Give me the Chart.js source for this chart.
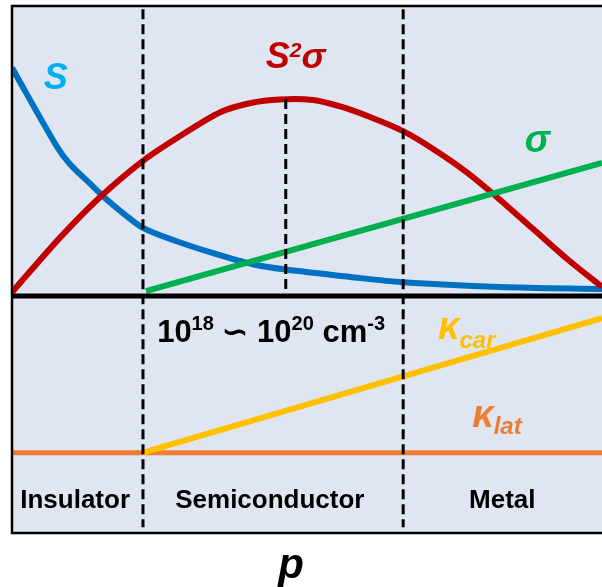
<!DOCTYPE html>
<html lang="en">
<head>
<meta charset="UTF-8">
<title>Thermoelectric vs carrier concentration</title>
<style>
  body { margin: 0; padding: 0; background: #fff; }
  #wrap { width: 602px; height: 587px; }
</style>
</head>
<body>
<div id="wrap"><canvas id="chart" width="602" height="587"></canvas></div>
<script src="https://cdn.jsdelivr.net/npm/chart.js"></script>
<script>
  // x: carrier concentration p (0..100, arbitrary), y: property (schematic units)
  // top panel y > 0, bottom panel y < 0
  const sX = [0, 7.6, 9.8, 13.2, 16.1, 18.8, 22.2, 27.3, 34.1, 40.8, 46.4, 57.3, 66.1, 82.7, 100];
  const sY = [43.1, 28.2, 24.9, 21.2, 18.1, 15.6, 12.8, 10.5, 8.0, 5.9, 4.9, 3.5, 2.5, 1.6, 1.2];

  const pfX = [0, 8.1, 14.9, 22.2, 28.5, 35.3, 40.3, 45.4, 51.0, 55.6, 60.2, 66.3, 71.7, 77.1, 82.2, 88.3, 94.1, 100];
  const pfY = [0.6, 10.9, 18.6, 25.5, 30.2, 34.7, 36.4, 37.1, 37.0, 35.8, 34.0, 31.1, 27.5, 23.3, 18.6, 12.6, 6.9, 1.6];

  const sigmaX = [22.7, 100];
  const sigmaY = [0.8, 25.1];

  const kcarX = [22.2, 100];
  const kcarY = [-29.8, -4.3];

  const klatX = [-0.4, 100];
  const klatY = [-29.8, -29.8];

  // region boundaries and optimum
  const boundaryX = [22.2, 66.3];
  const optimumX = 46.4;
  const regions = ['Insulator', 'Semiconductor', 'Metal'];

  const pts = (xs, ys) => xs.map((x, i) => ({ x: x, y: ys[i] }));

  const datasets = [];
  boundaryX.forEach(bx => {
    datasets.push({
      data: [{ x: bx, y: 54.2 }, { x: bx, y: -43.9 }],
      borderColor: '#000', borderWidth: 3, borderDash: [10, 5]
    });
  });
  datasets.push({
    data: [{ x: optimumX, y: 37.2 }, { x: optimumX, y: 0 }],
    borderColor: '#000', borderWidth: 3, borderDash: [10, 5]
  });
  datasets.push({
    data: [{ x: -0.5, y: -0.1 }, { x: 100, y: -0.1 }],
    borderColor: '#000', borderWidth: 5
  });
  datasets.push({ label: 'sigma', data: pts(sigmaX, sigmaY), borderColor: '#00b050', borderWidth: 6 });
  datasets.push({ label: 'S2sigma', data: pts(pfX, pfY), borderColor: '#c00000', borderWidth: 6, tension: 0.3 });
  datasets.push({ label: 'S', data: pts(sX, sY), borderColor: '#0070c0', borderWidth: 6, tension: 0.3 });
  datasets.push({ label: 'kcar', data: pts(kcarX, kcarY), borderColor: '#ffc000', borderWidth: 6 });
  datasets.push({ label: 'klat', data: pts(klatX, klatY), borderColor: '#ed7d31', borderWidth: 5 });

  const FONT = '"Liberation Sans", Arial, sans-serif';

  function richText(ctx, parts, x, y, align) {
    ctx.save();
    ctx.textBaseline = 'alphabetic';
    ctx.textAlign = 'left';
    let w = 0;
    parts.forEach(p => {
      ctx.font = p.f;
      w += ctx.measureText(p.t).width;
    });
    let cx = align === 'center' ? x - w / 2 : x;
    parts.forEach(p => {
      ctx.font = p.f;
      ctx.fillStyle = p.c;
      ctx.fillText(p.t, cx, y + (p.dy || 0));
      cx += ctx.measureText(p.t).width;
    });
    ctx.restore();
  }

  const framePlugin = {
    id: 'frame',
    beforeDatasetsDraw(chart) {
      const a = chart.chartArea, ctx = chart.ctx;
      ctx.save();
      ctx.fillStyle = '#dfe6f2';
      ctx.fillRect(a.left, a.top, a.right - a.left + 2, a.bottom - a.top);
      ctx.restore();
    },
    afterDatasetsDraw(chart) {
      const a = chart.chartArea, ctx = chart.ctx;
      const xs = chart.scales.x, ys = chart.scales.y;
      const X = v => xs.getPixelForValue(v), Y = v => ys.getPixelForValue(v);

      ctx.save();
      ctx.strokeStyle = '#000';
      ctx.lineWidth = 2.5;
      ctx.strokeRect(a.left, a.top + 1, a.right - a.left + 10, a.bottom - a.top - 1);
      ctx.restore();

      const bi = 'italic bold ';
      const b = 'bold ';
      richText(ctx, [{ t: 'S', f: bi + '36px ' + FONT, c: '#00b0f0' }], X(5.4), Y(39.1));
      richText(ctx, [
        { t: 'S', f: bi + '36px ' + FONT, c: '#c00000' },
        { t: '2', f: bi + '21px ' + FONT, c: '#c00000', dy: -11 },
        { t: 'σ', f: bi + '36px ' + FONT, c: '#c00000' }
      ], X(43.0), Y(43.1));
      richText(ctx, [{ t: 'σ', f: bi + '38px ' + FONT, c: '#00b050' }], X(86.9), Y(27.2));

      richText(ctx, [
        { t: '10', f: b + '31px ' + FONT, c: '#000' },
        { t: '18', f: b + '20px ' + FONT, c: '#000', dy: -12 },
        { t: ' ∽ ', f: b + '31px ' + FONT, c: '#000' },
        { t: '10', f: b + '31px ' + FONT, c: '#000' },
        { t: '20', f: b + '20px ' + FONT, c: '#000', dy: -12 },
        { t: ' cm', f: b + '31px ' + FONT, c: '#000' },
        { t: '-3', f: b + '20px ' + FONT, c: '#000', dy: -12 }
      ], X(24.6), Y(-8.8));

      richText(ctx, [
        { t: 'κ', f: bi + '38px ' + FONT, c: '#ffc000' },
        { t: 'car', f: bi + '24px ' + FONT, c: '#ffc000', dy: 9 }
      ], X(72.2), Y(-8.3));
      richText(ctx, [
        { t: 'κ', f: bi + '38px ' + FONT, c: '#ed7d31' },
        { t: 'lat', f: bi + '24px ' + FONT, c: '#ed7d31', dy: 7 }
      ], X(78.0), Y(-24.9));

      const regionX = [10.7, 43.7, 83.1];
      regions.forEach((r, i) => {
        richText(ctx, [{ t: r, f: b + '26px ' + FONT, c: '#000' }], X(regionX[i]), Y(-40.2), 'center');
      });

      richText(ctx, [{ t: 'p', f: bi + '42px ' + FONT, c: '#000' }], X(47.3), Y(-53.5), 'center');
    }
  };

  new Chart(document.getElementById('chart'), {
    type: 'line',
    data: { datasets: datasets },
    options: {
      responsive: false,
      animation: false,
      events: [],
      layout: { padding: { left: 12, top: 5, right: 0, bottom: 54 } },
      elements: { point: { radius: 0 }, line: { tension: 0, borderCapStyle: 'butt' } },
      plugins: { legend: { display: false }, tooltip: { enabled: false } },
      scales: {
        x: { type: 'linear', min: 0, max: 100, display: false },
        y: { type: 'linear', min: -45, max: 55, display: false }
      }
    },
    plugins: [framePlugin]
  });
</script>
</body>
</html>
